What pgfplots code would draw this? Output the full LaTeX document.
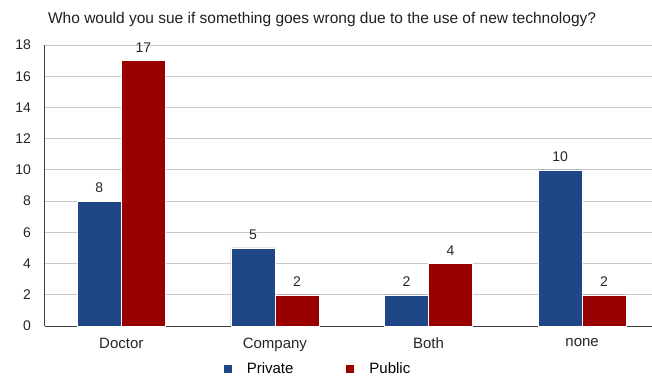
\documentclass[border=0pt]{standalone}
\usepackage{pgfplots}
\pgfplotsset{compat=1.18}
\usepackage{fontspec}
\setmainfont{Liberation Sans}
\definecolor{cblue}{RGB}{31,71,136}
\definecolor{cred}{RGB}{153,0,0}
\definecolor{gridc}{RGB}{200,200,200}
\definecolor{axc}{RGB}{64,64,64}
\begin{document}
\begin{tikzpicture}
\begin{axis}[
  name=ax, scale only axis, width=607.5pt, height=281pt,
  ybar=0pt, bar width=44pt,
  xmin=-0.5, xmax=3.455, ymin=0, ymax=18, ytick={0,2,...,18},
  xtick={0,1,2,3}, xticklabels={Doctor,Company,Both,none},
  axis x line*=bottom, axis y line*=left,
  axis line style={-, axc, line width=0.9pt},
  ymajorgrids, grid style={gridc, line width=0.8pt},
  major tick length=0pt,
  /pgf/number format/assume math mode=true,
  yticklabel style={font=\fontsize{14}{16}\selectfont, color=black!85, xshift=-10pt},
  xticklabel style={font=\fontsize{15}{17}\selectfont, color=black!85, yshift=-8.5pt},
  nodes near coords,
  nodes near coords style={font=\fontsize{14}{16}\selectfont, color=black!85, yshift=4.5pt},
  legend style={at={(axis description cs:0.4486,-0.1535)}, anchor=center, draw=none,
    font=\fontsize{15}{17}\selectfont, legend columns=2, inner sep=0pt,
    nodes={inner sep=0pt},
    /tikz/every odd column/.append style={column sep=15pt},
    /tikz/every even column/.append style={column sep=53pt}},
  legend image code/.code={\fill[#1,draw=none] (0pt,-4pt) rectangle (8pt,4pt);},
]
\addplot[fill=cblue, draw=white, line width=0.3pt] coordinates {(0,8) (1,5) (2,2) (3,10)};
\addplot[fill=cred, draw=white, line width=0.3pt] coordinates {(0,17) (1,2) (2,4) (3,2)};
\legend{Private, Public}
\end{axis}
\node[anchor=west, inner sep=0pt, font=\fontsize{15.5}{17}\selectfont, color=black!88] at ([xshift=3.4pt, yshift=26pt]ax.north west) {Who would you sue if something goes wrong due to the use of new technology?};
\pgfresetboundingbox
\useasboundingbox ([xshift=-44.5pt, yshift=-55pt]ax.south west) rectangle ([yshift=45pt]ax.north east);
\end{tikzpicture}
\end{document}
